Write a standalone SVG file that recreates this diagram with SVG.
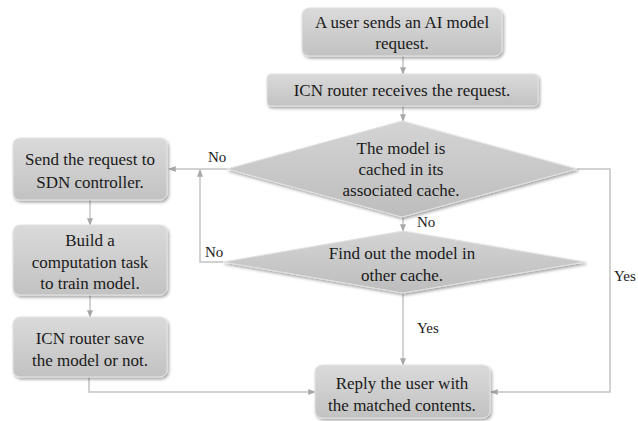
<svg xmlns="http://www.w3.org/2000/svg" width="638" height="421" viewBox="0 0 638 421">
<defs>
<linearGradient id="g" x1="0" y1="0" x2="0" y2="1">
<stop offset="0" stop-color="#dadada"/>
<stop offset="1" stop-color="#c2c2c2"/>
</linearGradient>
<linearGradient id="gd" x1="0" y1="0" x2="0" y2="1">
<stop offset="0" stop-color="#d4d4d4"/>
<stop offset="1" stop-color="#bdbdbd"/>
</linearGradient>
<filter id="sh" x="-10%" y="-10%" width="130%" height="140%">
<feDropShadow dx="1.5" dy="2" stdDeviation="1.5" flood-color="#000" flood-opacity="0.35"/>
</filter>
<marker id="ar" viewBox="0 0 10 10" refX="9" refY="5" markerWidth="5" markerHeight="5" orient="auto">
<path d="M0,1 L10,5 L0,9 z" fill="#a8a8a8"/>
</marker>
</defs>
<style>
.box{fill:url(#g);stroke:#e2e2e2;stroke-width:1;filter:url(#sh)}
.dia{fill:url(#gd);stroke:#e2e2e2;stroke-width:1;filter:url(#sh)}
text{font-family:"Liberation Serif","Times New Roman",Times,"Nimbus Roman","FreeSerif","Noto Serif","DejaVu Serif",Georgia,serif;fill:#1a1a1a}
.t{font-size:17px;text-anchor:middle}
.l{font-size:15px}
.ca{fill:none;stroke:#c4c4c4;stroke-width:1.5;marker-end:url(#ar)}
</style>
<g id="connectors">
<path class="ca" d="M403,56 V74"/>
<path class="ca" d="M403,106 V121"/>
<path class="ca" d="M227,169 H169"/>
<path class="ca" d="M403,217 V231"/>
<path class="ca" d="M223,262 H200 V170"/>
<path class="ca" d="M577,169 H610 V392 H491"/>
<path class="ca" d="M403,293 V365"/>
<path class="ca" d="M90,200 V225"/>
<path class="ca" d="M90,295 V317"/>
<path class="ca" d="M89,377 V392 H315"/>
<text class="l" x="208" y="162">No</text>
<text class="l" x="417" y="227">No</text>
<text class="l" x="205" y="257">No</text>
<text class="l" x="417" y="333">Yes</text>
<text class="l" x="614" y="281">Yes</text>
</g>
<g id="n1">
<rect class="box" x="302" y="8" width="200" height="48" rx="7"/>
<text class="t" x="402" y="28">A user sends an AI model</text>
<text class="t" x="402" y="49">request.</text>
</g>
<g id="n2">
<rect class="box" x="267" y="74" width="271" height="32" rx="4"/>
<text class="t" x="402" y="96">ICN router receives the request.</text>
</g>
<g id="d1">
<polygon class="dia" points="402,121 577,169 402,217 227,169"/>
<text class="t" x="401" y="154">The model is</text>
<text class="t" x="401" y="175">cached in its</text>
<text class="t" x="401" y="196">associated cache.</text>
</g>
<g id="d2">
<polygon class="dia" points="403,231 585,262 403,293 223,262"/>
<text class="t" x="402" y="259">Find out the model in</text>
<text class="t" x="402" y="281">other cache.</text>
</g>
<g id="n3">
<rect class="box" x="315" y="365" width="175" height="53" rx="7"/>
<text class="t" x="402" y="389">Reply the user with</text>
<text class="t" x="402" y="411">the matched contents.</text>
</g>
<g id="nA">
<rect class="box" x="13" y="138" width="154" height="62" rx="7"/>
<text class="t" x="90" y="165">Send the request to</text>
<text class="t" x="90" y="188">SDN controller.</text>
</g>
<g id="nB">
<rect class="box" x="13" y="225" width="154" height="70" rx="7"/>
<text class="t" x="90" y="246">Build a</text>
<text class="t" x="90" y="268">computation task</text>
<text class="t" x="90" y="289">to train model.</text>
</g>
<g id="nC">
<rect class="box" x="13" y="317" width="154" height="60" rx="7"/>
<text class="t" x="90" y="344">ICN router save</text>
<text class="t" x="90" y="366">the model or not.</text>
</g>
</svg>
